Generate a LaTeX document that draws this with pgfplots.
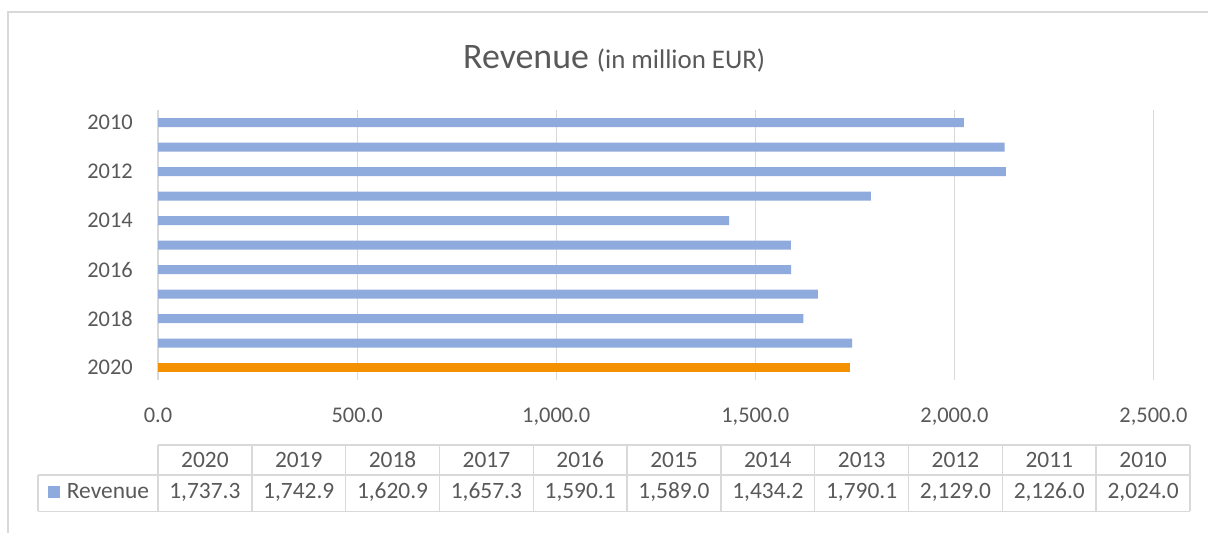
\documentclass[border=0pt]{standalone}
\usepackage{pgfplots}
\pgfplotsset{compat=1.18}
\usepackage{fontspec}
\setmainfont{Carlito}
\definecolor{barblue}{RGB}{143,170,220}
\definecolor{barorange}{RGB}{244,145,0}
\definecolor{txt}{RGB}{89,89,89}
\definecolor{gridc}{RGB}{217,217,217}

\begin{document}
\begin{tikzpicture}[x=1bp,y=1bp]
\useasboundingbox (0,0) rectangle (1208,533);
\fill[white] (0,0) rectangle (1208,533);
% chart border
\draw[gridc, line width=1.5bp] (8,0) -- (8,521) -- (1208,521);
% title
\node[anchor=base west, inner sep=0pt, text=txt] at (463,464) {\fontsize{36}{40}\selectfont Revenue\hspace{8bp}\fontsize{27}{30}\selectfont (in million EUR)};

\begin{axis}[at={(158bp,153bp)}, anchor=south west, scale only axis,
 width=995.5bp, height=269.5bp,
 xmin=0, xmax=2500, ymin=-0.5, ymax=10.5, y dir=reverse,
 xbar, bar width=9bp, bar shift=0pt,
 xtick={0,500,...,2500},
 xticklabels={0.0,500.0,{1,000.0},{1,500.0},{2,000.0},{2,500.0}},
 ytick={0,2,4,6,8,10}, yticklabels={2010,2012,2014,2016,2018,2020},
 xmajorgrids, major grid style={gridc, line width=1.2bp},
 axis line style={draw=none}, major tick length=0pt,
 tick label style={font=\fontsize{22.5}{26}\selectfont, text=txt, inner sep=0pt},
 xticklabel style={anchor=north, yshift=-28bp},
 yticklabel style={anchor=east, xshift=-25bp},
 clip=false,
]
\addplot[fill=barblue, draw=none] coordinates {(2024.0,0) (2126.0,1) (2129.0,2) (1790.1,3) (1434.2,4) (1589.0,5) (1590.1,6) (1657.3,7) (1620.9,8) (1742.9,9)};
\addplot[fill=barorange, draw=none] coordinates {(1737.3,10)};
\end{axis}

% data table
\begin{scope}[gridc, line width=1.5bp]
\draw (158,88) -- (1190,88);
\draw (38,58) -- (1190,58);
\draw (38,21.5) -- (1190,21.5);
\draw (38,21.5) -- (38,58);
\foreach \k in {0,...,11} {\draw (158+93.82*\k,21.5) -- (158+93.82*\k,88);}
\end{scope}
\foreach \yr [count=\i from 0] in {2020,2019,2018,2017,2016,2015,2014,2013,2012,2011,2010}
  {\node[anchor=base, inner sep=0pt, text=txt, font=\fontsize{23.5}{26}\selectfont] at (158+93.82*\i+46.91,65.5) {\yr};}
\foreach \v [count=\i from 0] in {{1,737.3},{1,742.9},{1,620.9},{1,657.3},{1,590.1},{1,589.0},{1,434.2},{1,790.1},{2,129.0},{2,126.0},{2,024.0}}
  {\node[anchor=base, inner sep=0pt, text=txt, font=\fontsize{23.5}{26}\selectfont] at (158+93.82*\i+46.91,34.5) {\v};}
\fill[barblue] (48,34.5) rectangle (60,46.5);
\node[anchor=base west, inner sep=0pt, text=txt, font=\fontsize{23.5}{26}\selectfont] at (66.7,34.5) {Revenue};
\end{tikzpicture}
\end{document}
